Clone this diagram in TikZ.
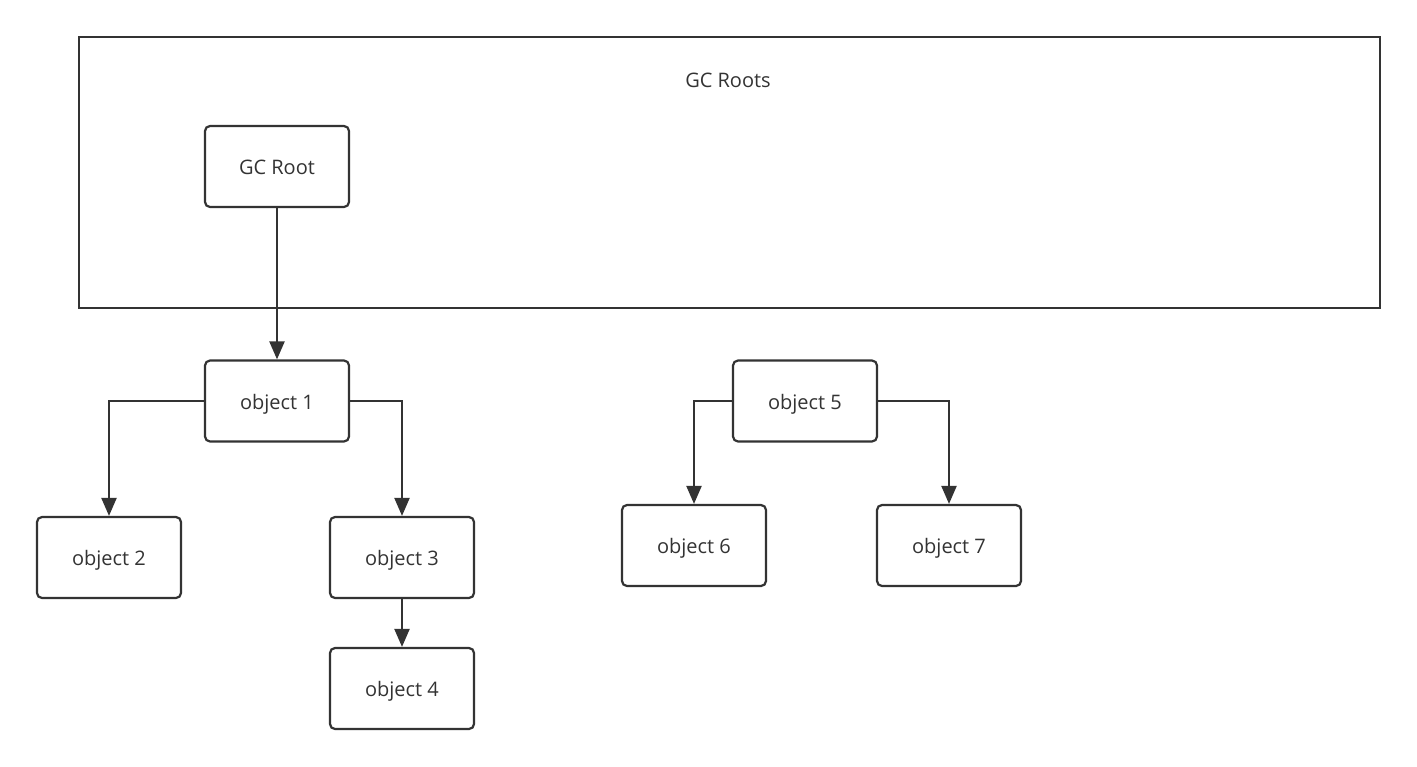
\documentclass[tikz,border=0pt]{standalone}
\usepackage{fontspec}
\setmainfont{Open Sans}
\usetikzlibrary{arrows.meta}
\definecolor{ink}{HTML}{333333}
\begin{document}
\begin{tikzpicture}[x=0.5pt,y=-0.5pt,
  lbl/.style={font=\fontsize{10}{12}\selectfont,text=ink,text height=1.6ex,text depth=0.1ex},
  objbox/.style={lbl,draw=ink,line width=1.1pt,rounded corners=2.5pt,minimum width=72pt,minimum height=40.5pt,inner sep=0pt},
  conn/.style={draw=ink,line width=1.1pt,-{Triangle[length=9pt,width=7.5pt]}}]
\useasboundingbox (0,0) rectangle (1417,766);
\node[draw=ink,line width=1.1pt,minimum width=650.5pt,minimum height=135.5pt,inner sep=0pt] (roots) at (729.5,172.5) {};
\node[lbl] (rootslbl) at (728,79) {GC Roots};
\node[objbox] (gcr) at (277,166.5) {GC Root};
\node[objbox] (o1) at (277,401) {object 1};
\node[objbox] (o2) at (109,557.5) {object 2};
\node[objbox] (o3) at (402,557.5) {object 3};
\node[objbox] (o4) at (402,688.5) {object 4};
\node[objbox] (o5) at (805,401) {object 5};
\node[objbox] (o6) at (694,545.5) {object 6};
\node[objbox] (o7) at (949,545.5) {object 7};
\draw[conn] (gcr) -- (o1);
\draw[conn] (o1.west) -| (o2.north);
\draw[conn] (o1.east) -| (o3.north);
\draw[conn] (o3) -- (o4);
\draw[conn] (o5.west) -| (o6.north);
\draw[conn] (o5.east) -| (o7.north);
\end{tikzpicture}
\end{document}
